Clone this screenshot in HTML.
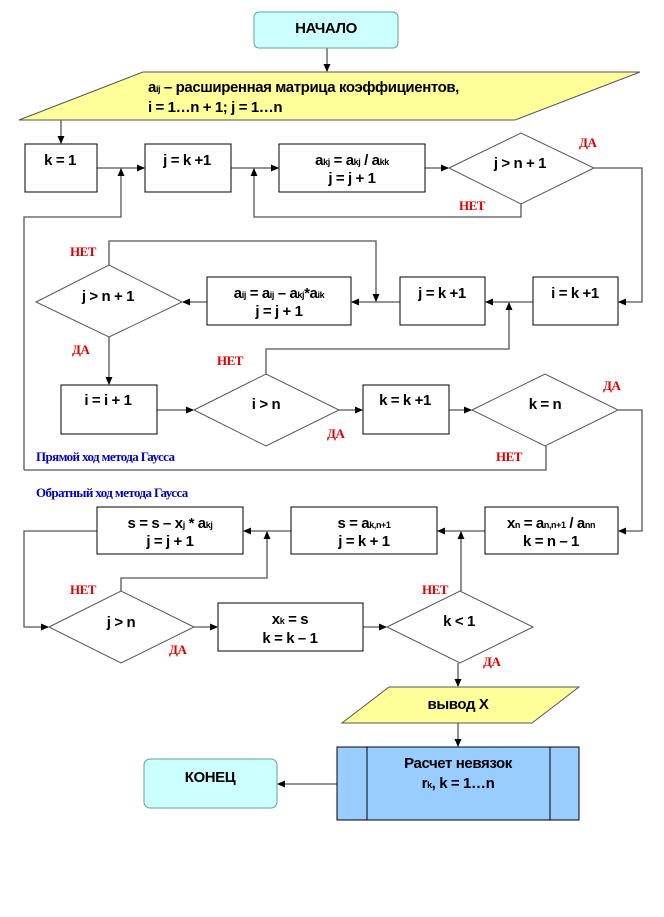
<!DOCTYPE html>
<html><head><meta charset="utf-8"><style>
html,body{margin:0;padding:0;background:#fff;}
svg{display:block;}
text{font-family:"Liberation Sans",Arial,sans-serif;font-weight:bold;font-size:15px;letter-spacing:-0.4px;fill:#000;}
.c{text-anchor:middle;}
.r{font-family:"Liberation Serif",serif;fill:#e00000;font-size:13px;letter-spacing:-0.5px;}
.b{font-family:"Liberation Serif",serif;fill:#0000c0;font-size:13px;letter-spacing:-0.6px;}
.s{font-size:9px;}
</style></head><body>
<svg width="664" height="917" viewBox="0 0 664 917" xmlns="http://www.w3.org/2000/svg">
<defs><marker id="a" markerWidth="8" markerHeight="8" refX="7" refY="4" orient="auto" markerUnits="userSpaceOnUse"><path d="M0,0.5 L8,4 L0,7.5 z" fill="#000"/></marker></defs>
<g fill="none" stroke="#555" stroke-width="1.3">
<path d="M327,48 V71" marker-end="url(#a)"/>
<path d="M61,120 V143" marker-end="url(#a)"/>
<path d="M97,168 H144" marker-end="url(#a)"/>
<path d="M231,168 H278" marker-end="url(#a)"/>
<path d="M425,168 H448" marker-end="url(#a)"/>
<path d="M521,204 V217 H254 V169" marker-end="url(#a)"/>
<path d="M24,470 V217 H121 V169" marker-end="url(#a)"/>
<path d="M546,446 V470 H24"/>
<path d="M594,168 H642 V302 H619" marker-end="url(#a)"/>
<path d="M533,302 H486" marker-end="url(#a)"/>
<path d="M400,302 H352" marker-end="url(#a)"/>
<path d="M207,302 H183" marker-end="url(#a)"/>
<path d="M109,265 V241 H376 V301" marker-end="url(#a)"/>
<path d="M266,374 V349 H509 V303" marker-end="url(#a)"/>
<path d="M109,337 V384" marker-end="url(#a)"/>
<path d="M157,410 H193" marker-end="url(#a)"/>
<path d="M339,410 H362" marker-end="url(#a)"/>
<path d="M449,410 H471" marker-end="url(#a)"/>
<path d="M618,410 H642 V531 H619" marker-end="url(#a)"/>
<path d="M485,531 H438" marker-end="url(#a)"/>
<path d="M291,531 H244" marker-end="url(#a)"/>
<path d="M97,531 H24 V627 H48" marker-end="url(#a)"/>
<path d="M121,591 V578 H267 V532" marker-end="url(#a)"/>
<path d="M461,591 V532" marker-end="url(#a)"/>
<path d="M194,627 H217" marker-end="url(#a)"/>
<path d="M363,627 H386" marker-end="url(#a)"/>
<path d="M458,663 V686" marker-end="url(#a)"/>
<path d="M458,723 V746" marker-end="url(#a)"/>
<path d="M337,784 H278" marker-end="url(#a)"/>
</g>
<g stroke="#000" stroke-width="1" fill="#fff">
<rect x="254" y="12" width="144" height="36" rx="5" fill="#ccffff" stroke="#5aa88a"/>
<polygon points="143,72 640,72 515,120 19,120" fill="#ffff99" stroke="#555"/>
<rect x="25" y="144" width="72" height="48"/>
<rect x="145" y="144" width="86" height="48"/>
<rect x="279" y="144" width="146" height="48"/>
<polygon points="449,168 521,133 594,168 521,204" stroke="#555"/>
<rect x="533" y="277" width="85" height="48"/>
<rect x="400" y="277" width="85" height="48"/>
<rect x="207" y="277" width="144" height="48"/>
<polygon points="36,302 109,265 182,302 109,337" stroke="#555"/>
<rect x="61" y="385" width="96" height="49"/>
<polygon points="194,410 266,374 339,410 266,446" stroke="#555"/>
<rect x="363" y="385" width="86" height="49"/>
<polygon points="472,410 545,374 618,410 545,446" stroke="#555"/>
<rect x="485" y="507" width="133" height="47"/>
<rect x="291" y="507" width="146" height="47"/>
<rect x="97" y="507" width="146" height="47"/>
<polygon points="49,627 121,591 194,627 121,663" stroke="#555"/>
<rect x="218" y="603" width="145" height="48"/>
<polygon points="387,627 460,591 533,627 460,663" stroke="#555"/>
<polygon points="389,687 579,687 532,723 342,723" fill="#ffff99" stroke="#555"/>
<rect x="337" y="747" width="242" height="73" fill="#99ccff"/>
<line x1="367" y1="747" x2="367" y2="820"/>
<line x1="550" y1="747" x2="550" y2="820"/>
<rect x="144" y="759" width="133" height="49" rx="6" fill="#ccffff" stroke="#5aa88a"/>
</g>
<text class="c" x="326" y="33">НАЧАЛО</text>
<text x="148" y="92">a<tspan class="s">ij</tspan> – расширенная  матрица коэффициентов,</text>
<text x="148" y="112">i = 1…n + 1; j = 1…n</text>
<text class="c" x="60" y="165">k = 1</text>
<text class="c" x="187" y="165">j = k +1</text>
<text class="c" x="352" y="165">a<tspan class="s">kj</tspan> = a<tspan class="s">kj</tspan> / a<tspan class="s">kk</tspan></text>
<text class="c" x="352" y="183">j = j + 1</text>
<text class="c" x="520" y="168">j &gt; n + 1</text>
<text class="c" x="575" y="298">i = k +1</text>
<text class="c" x="442" y="298">j = k +1</text>
<text class="c" x="279" y="298">a<tspan class="s">ij</tspan> = a<tspan class="s">ij</tspan> – a<tspan class="s">kj</tspan>*a<tspan class="s">ik</tspan></text>
<text class="c" x="279" y="316">j = j + 1</text>
<text class="c" x="108" y="301">j &gt; n + 1</text>
<text class="c" x="108" y="405">i = i + 1</text>
<text class="c" x="266" y="409">i &gt; n</text>
<text class="c" x="405" y="405">k = k +1</text>
<text class="c" x="545" y="409">k = n</text>
<text class="c" x="551" y="528">x<tspan class="s">n</tspan> = a<tspan class="s">n,n+1</tspan> / a<tspan class="s">nn</tspan></text>
<text class="c" x="551" y="546">k = n – 1</text>
<text class="c" x="364" y="528">s = a<tspan class="s">k,n+1</tspan></text>
<text class="c" x="364" y="546">j = k + 1</text>
<text class="c" x="170" y="528">s = s – x<tspan class="s">j</tspan> * a<tspan class="s">kj</tspan></text>
<text class="c" x="170" y="546">j = j + 1</text>
<text class="c" x="121" y="627">j &gt; n</text>
<text class="c" x="290" y="624">x<tspan class="s">k</tspan> = s</text>
<text class="c" x="290" y="643">k = k – 1</text>
<text class="c" x="459" y="626">k &lt; 1</text>
<text class="c" x="458" y="709">вывод X</text>
<text class="c" x="458" y="768">Расчет невязок</text>
<text class="c" x="458" y="788">r<tspan class="s">k</tspan>,  k = 1…n</text>
<text class="c" x="210" y="782">КОНЕЦ</text>
<text class="r" x="579" y="147">ДА</text>
<text class="r" x="459" y="210">НЕТ</text>
<text class="r" x="70" y="256">НЕТ</text>
<text class="r" x="72" y="354">ДА</text>
<text class="r" x="217" y="365">НЕТ</text>
<text class="r" x="327" y="438">ДА</text>
<text class="r" x="603" y="390">ДА</text>
<text class="r" x="496" y="461">НЕТ</text>
<text class="b" x="36" y="461">Прямой ход метода Гаусса</text>
<text class="b" x="36" y="497">Обратный ход метода Гаусса</text>
<text class="r" x="70" y="594">НЕТ</text>
<text class="r" x="169" y="654">ДА</text>
<text class="r" x="422" y="594">НЕТ</text>
<text class="r" x="483" y="666">ДА</text>
</svg>
</body></html>
